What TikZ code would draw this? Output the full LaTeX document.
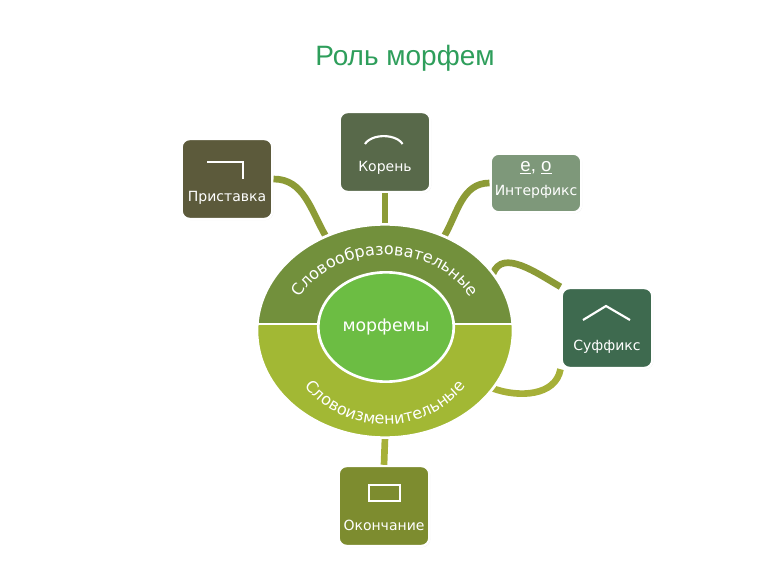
\documentclass[tikz,border=0pt]{standalone}
\usepackage{fontspec}
\setmainfont{DejaVu Sans}
\newfontfamily\titlefont{Liberation Sans}
\definecolor{mTitle}{HTML}{2E9E5B}
\definecolor{mUpper}{HTML}{72903C}
\definecolor{mLower}{HTML}{A2B834}
\definecolor{mInner}{HTML}{6CBD43}
\definecolor{mLink}{HTML}{8C9B36}
\definecolor{mLinkLow}{HTML}{A6B038}
\definecolor{mPrist}{HTML}{5C5A3B}
\definecolor{mKoren}{HTML}{58694A}
\definecolor{mInter}{HTML}{7E987A}
\definecolor{mSuff}{HTML}{3E6A4F}
\definecolor{mOkon}{HTML}{7D8C2F}
\usetikzlibrary{calc,positioning,shapes.geometric,decorations.text,shadows}

\begin{document}
\begin{tikzpicture}[x=0.75pt, y=-0.75pt,
  morphbox/.style={draw=white, line width=1.8pt, rounded corners=6pt,
    minimum width=68pt, minimum height=60pt,
    drop shadow={opacity=0.15, shadow xshift=0.8pt, shadow yshift=-0.8pt}},
  boxtext/.style={text=white, font=\fontsize{10.5}{12}\selectfont},
  glyph/.style={white, line width=1.6pt},
  link/.style={mLink, line width=5pt},
  bandtext/.style={decorate, decoration={text along path, text align=center,
    text color=white}}]
  \useasboundingbox (0,0) rectangle (770,577);

  % Title
  \node[font=\titlefont\fontsize{21}{24}\selectfont, text=mTitle] (title) at (405,58) {Роль морфем};

  % Outer ellipse (placed first, drawn later)
  \node[ellipse, minimum width=192pt, minimum height=160pt] (mor) at (385,331) {};

  % Boxes
  \node[morphbox, fill=mPrist] (pr) at (227,179) {};
  \node[morphbox, fill=mKoren] (kor) at (385,152) {};
  \node[morphbox, fill=mInter, minimum height=44pt] (int) at (536,183) {};
  \node[morphbox, fill=mSuff] (suf) at (607,328) {};
  \node[morphbox, fill=mOkon] (ok) at (384,506) {};

  % Connectors
  \draw[link] (pr.east) to[out=0, in=120] (mor.122);
  \draw[link] (kor.south) -- (mor.north);
  \draw[link] (int.west) to[out=180, in=60] (mor.58);
  \draw[link] (mor.28) to[out=70, in=150] (suf.north west);
  \draw[link, mLinkLow] (suf.south west) to[out=-100, in=-20] (mor.-28);
  \draw[link, mLinkLow] (mor.south) -- (ok.north);

  % Ellipse halves
  \begin{scope}
    \clip (mor.center) ellipse [x radius=96pt, y radius=80pt];
    \fill[mUpper] (240,200) rectangle (530,324);
    \fill[mLower] (240,324) rectangle (530,460);
    \draw[white, line width=1.2pt] (240,324) -- (530,324);
  \end{scope}
  \draw[white, line width=2pt] (mor.center) ellipse [x radius=96pt, y radius=80pt];

  % Inner circle
  \node[ellipse, fill=mInner, draw=white, line width=2pt, minimum width=95pt,
    minimum height=82pt, text=white, font=\fontsize{13}{15}\selectfont] (core) at (386,327) {морфемы};

  % Curved labels
  \path[bandtext, decoration={text={|\fontsize{12}{14}\selectfont|Словообразовательные}}]
    ($(mor.center)+(164:71pt and 57pt)$) arc[start angle=164, end angle=16, x radius=71pt, y radius=57pt];
  \path[bandtext, decoration={text={|\fontsize{12}{14}\selectfont|Словоизменительные}}]
    ($(mor.center)+(196:75pt and 70pt)$) arc[start angle=196, end angle=344, x radius=75pt, y radius=70pt];

  % Box texts and marks
  \node[boxtext] (prt) at (227,198) {Приставка};
  \draw[glyph] (207,162) -- (243,162) -- (243,179);
  \node[boxtext] (kort) at (385,168) {Корень};
  \draw[glyph] (365,144) arc[start angle=160, end angle=20, x radius=15pt, y radius=9pt];
  \node[boxtext, font=\fontsize{14}{15}\selectfont\titlefont] (into) at (536,168) {\underline{е}, \underline{о}};
  \node[boxtext] (intt) at (536,192) {Интерфикс};
  \node[boxtext] (suft) at (607,347) {Суффикс};
  \draw[glyph] (583,320) -- (606,306) -- (630,320);
  \node[boxtext] (okt) at (384,525) {Окончание};
  \draw[glyph] (369,485) rectangle (400,501);
\end{tikzpicture}
\end{document}
